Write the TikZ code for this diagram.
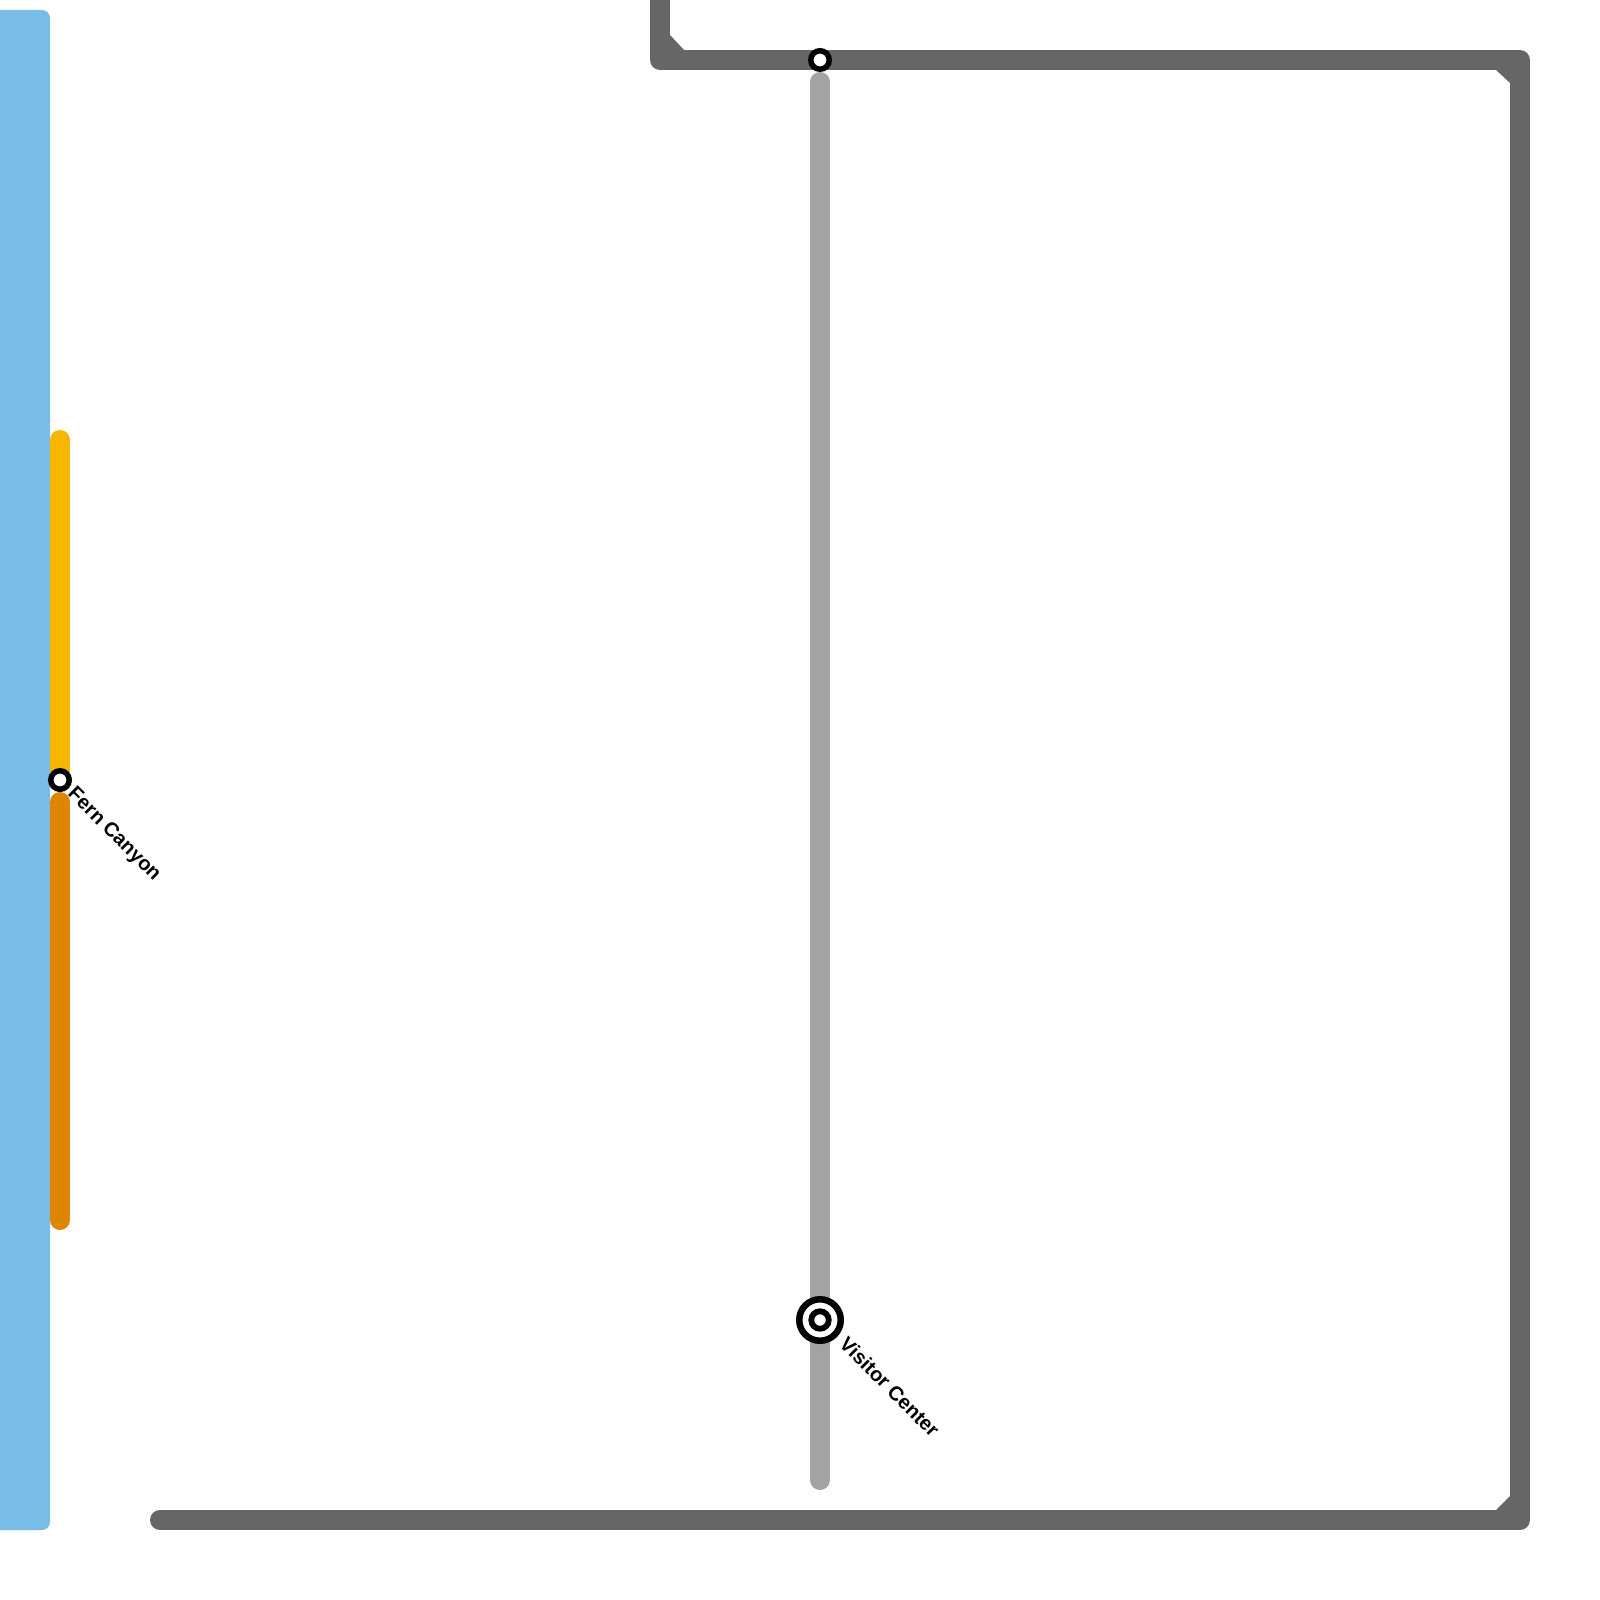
\documentclass[tikz,border=0pt]{standalone}
\usepackage{fontspec}
\setmainfont{Liberation Sans}
\usetikzlibrary{positioning, calc}
\definecolor{waterblue}{RGB}{121, 188, 232}
\definecolor{trailyellow}{RGB}{247, 183, 0}
\definecolor{trailorange}{RGB}{222, 134, 0}
\definecolor{roaddark}{RGB}{102, 102, 102}
\definecolor{spurgray}{RGB}{163, 163, 163}

\begin{document}
\begin{tikzpicture}[
  trail/.style={line width=0.2cm, line cap=round, line join=round},
  station/.style={circle, draw=black, fill=white, line width=0.055cm, minimum size=0.185cm, inner sep=0pt},
  hubring/.style={circle, draw=black, fill=white, line width=0.065cm, minimum size=0.415cm, inner sep=0pt},
  hubcore/.style={circle, draw=black, fill=white, line width=0.058cm, minimum size=0.175cm, inner sep=0pt},
  stationlabel/.style={rotate=-45, anchor=west, inner sep=0pt, font=\fontsize{5.7pt}{7pt}\selectfont\bfseries},
]
\useasboundingbox (0,0) rectangle (16,-16);
\clip (0,0) rectangle (16,-16);

%% Water band
\fill[waterblue, rounded corners=0.08cm] (-0.3,-0.1) rectangle (0.5,-15.3);

%% Line ends and bends
\coordinate (yellowtop) at (0.6,-4.4);
\coordinate (yellowend) at (0.6,-7.7);
\coordinate (orangetop) at (0.6,-8.02);
\coordinate (orangeend) at (0.6,-12.2);
\coordinate (roadstart) at (6.6,0.2);
\coordinate (bendnw) at (6.6,-0.6);
\coordinate (bendne) at (15.2,-0.6);
\coordinate (bendse) at (15.2,-15.2);
\coordinate (roadend) at (1.6,-15.2);
\coordinate (spurtop) at (8.2,-0.82);
\coordinate (spurend) at (8.2,-14.8);

%% Lines
\draw[trail, trailyellow] (yellowtop) -- (yellowend);
\draw[trail, trailorange] (orangetop) -- (orangeend);
\draw[trail, spurgray] (spurtop) -- (spurend);
\draw[trail, roaddark] (roadstart) -- (bendnw) -- (bendne) -- (bendse) -- (roadend);

% inner corner bevels
\fill[roaddark] (6.7,-0.35) -- (6.84,-0.5) -- (6.6,-0.6) -- cycle;
\fill[roaddark] (14.96,-0.7) -- (15.1,-0.83) -- (15.2,-0.6) -- cycle;
\fill[roaddark] (15.1,-14.96) -- (14.96,-15.1) -- (15.2,-15.2) -- cycle;

%% Stations
\node[station] (fern) at (0.6,-7.8) {};
\node[station] (junction) at (8.2,-0.6) {};
\node[hubring] (visitorring) at (8.2,-13.2) {};
\node[hubcore] (visitor) at (8.2,-13.2) {};

%% Labels
\node[stationlabel] (fernlabel) at (0.7,-7.91) {Fern Canyon};
\node[stationlabel] (visitorlabel) at (8.43,-13.4) {Visitor Center};

\end{tikzpicture}
\end{document}
